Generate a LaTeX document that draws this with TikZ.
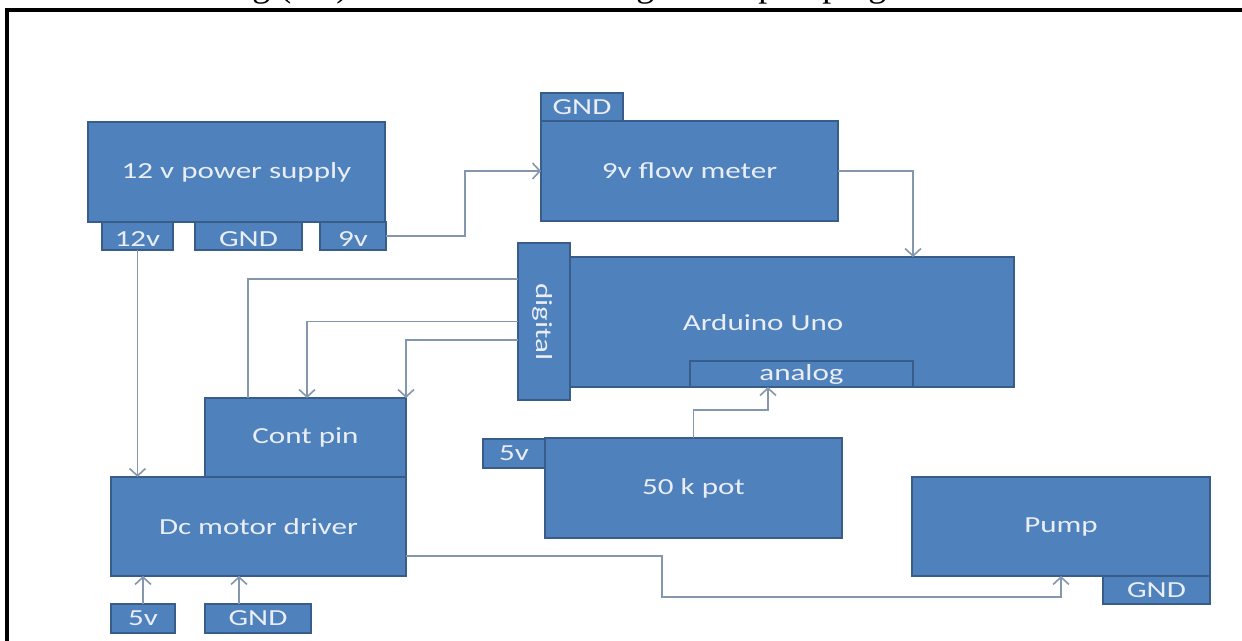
\documentclass[tikz,border=0pt]{standalone}
\usepackage{fontspec}
\newfontfamily\blkfont[FakeStretch=1.35]{Carlito}
\newfontfamily\capfont{Liberation Serif}
\usetikzlibrary{arrows.meta}
\definecolor{boxfill}{HTML}{4F81BD}
\definecolor{boxline}{HTML}{385D8A}
\definecolor{wirecol}{HTML}{8497AE}
\definecolor{boxtext}{HTML}{E9EEF6}
\begin{document}
\begin{tikzpicture}[x=0.5pt,y=-0.5pt,
  blk/.style={draw=boxline, fill=boxfill, line width=1pt, inner sep=0pt, outer sep=0pt,
    text=boxtext, font=\blkfont\fontsize{11.5pt}{13pt}\selectfont},
  lbl/.style={inner sep=0pt, text=boxtext, font=\blkfont\fontsize{11.5pt}{13pt}\selectfont},
  wire/.style={draw=wirecol, line width=0.8pt},
  arr/.style={wire, -{Straight Barb[length=1.3mm,width=2.8mm]}},
  frame/.style={draw=black, line width=1.8pt}
]
\useasboundingbox (0,0) rectangle (1242,641);
\clip (0,0) rectangle (1242,641);
\fill[white] (0,0) rectangle (1242,641);

% clipped caption and frame
\node[anchor=base west, inner sep=0pt, font=\capfont\fontsize{18pt}{21pt}\selectfont] (cap) at (222,-3.3) {Fig (3.1) The main block diagram of pumping};
\draw[frame] (1250,10) -- (7,10) -- (7,650);

% 12 v power supply
\node[blk, minimum width=35.5pt, minimum height=14pt] (ps12) at (137.5,236) {};
\node[blk, minimum width=53.5pt, minimum height=14pt] (psgnd) at (248.5,236) {};
\node[blk, minimum width=33pt, minimum height=14pt] (ps9) at (353,236) {};
\node[lbl] at (137.5,239) {12v};
\node[lbl] at (248.5,239) {GND};
\node[lbl] at (353,239) {9v};
\node[blk, minimum width=148.5pt, minimum height=50pt] (ps) at (236.5,172) {12 v power supply};

% flow meter
\node[blk, minimum width=41pt, minimum height=14pt] (fmgnd) at (582,107) {GND};
\node[blk, minimum width=148.5pt, minimum height=50pt] (fm) at (689.5,171) {9v flow meter};

% Arduino
\node[blk, minimum width=222pt, minimum height=65pt] (ard) at (792,322) {};
\node[lbl] (ardtxt) at (763,323) {Arduino Uno};
\node[blk, minimum width=111.5pt, minimum height=13pt] (analog) at (801.5,374) {analog};
\node[blk, minimum width=26pt, minimum height=78.5pt] (dig) at (544,321.5) {};
\node[lbl, rotate=-90] (digtxt) at (543,322) {digital};

% motor driver
\node[blk, minimum width=100.5pt, minimum height=39.5pt] (cont) at (305.5,437.5) {Cont pin};
\node[blk, minimum width=147.5pt, minimum height=49.5pt] (drv) at (258.5,526.5) {Dc motor driver};
\node[blk, minimum width=32pt, minimum height=14.5pt] (drv5v) at (143,618.5) {5v};
\node[blk, minimum width=53pt, minimum height=14.5pt] (drvgnd) at (258,618.5) {GND};

% pot
\node[blk, minimum width=31pt, minimum height=14.5pt] (pot5v) at (514,453.5) {5v};
\node[blk, minimum width=148.5pt, minimum height=50pt] (pot) at (693.5,488) {50 k pot};

% pump
\node[blk, minimum width=53.5pt, minimum height=14pt] (pumpgnd) at (1156.5,590) {GND};
\node[blk, minimum width=149pt, minimum height=49.5pt] (pump) at (1061,526.5) {Pump};

% connectors
\draw[arr] (ps12.south) -- (ps12.south |- drv.north);
\draw[arr] (ps9.east) -- ++(79,0) |- (fm.west);
\draw[arr] (fm.east) -| ([xshift=-50.5pt]ard.north east);
\draw[wire] ([yshift=21.25pt]dig.west) -| ([xshift=21.5pt]cont.north west);
\draw[arr] (dig.west) -| ([xshift=0.75pt]cont.north);
\draw[arr] ([yshift=-9.25pt]dig.west) -| (cont.north east);
\draw[arr] (pot.north) -- ++(0,-28) -| ([xshift=-16.75pt]analog.south);
\draw[arr] ([yshift=-14.75pt]drv.east) -| ++(256,41) -| (pump.south);
\draw[arr] (drv5v.north) -- (drv5v.north |- drv.south);
\draw[arr] ([xshift=-9.5pt]drvgnd.north) -- ([xshift=-9.5pt]drvgnd.north |- drv.south);
\end{tikzpicture}
\end{document}
